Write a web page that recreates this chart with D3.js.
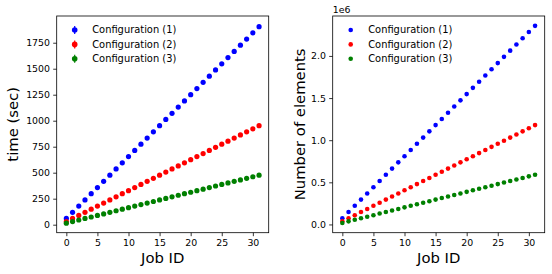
<!DOCTYPE html>
<html>
<head>
<meta charset="utf-8">
<script src="https://cdn.jsdelivr.net/npm/d3@7"></script>
<style>
  body { margin: 0; background: #fff; }
  text { font-family: "DejaVu Sans", sans-serif; fill: #000; }
</style>
</head>
<body>
<div id="chart"></div>
<script>
const jobIds = d3.range(0, 32);
const configNames = ["Configuration (1)", "Configuration (2)", "Configuration (3)"];
const configColors = ["blue", "red", "green"];

// time (sec) per job
const time1 = [60, 119, 179, 238, 298, 357, 417, 476, 536, 595, 655, 714, 774, 833, 893, 952,
  1012, 1071, 1131, 1190, 1250, 1309, 1369, 1428, 1488, 1547, 1607, 1666, 1726, 1785, 1845, 1904];
const time2 = [30, 60, 89, 119, 149, 179, 208, 238, 268, 298, 327, 357, 387, 417, 446, 476,
  506, 536, 565, 595, 625, 655, 684, 714, 744, 774, 803, 833, 863, 893, 922, 952];
const time3 = [15, 30, 45, 60, 74, 89, 104, 119, 134, 149, 164, 179, 193, 208, 223, 238,
  253, 268, 283, 298, 312, 327, 342, 357, 372, 387, 402, 417, 431, 446, 461, 476];

// number of elements (x 1e6)
const elems1 = [0.074, 0.147, 0.221, 0.295, 0.368, 0.442, 0.516, 0.589, 0.663, 0.737, 0.810, 0.884,
  0.958, 1.031, 1.105, 1.179, 1.252, 1.326, 1.400, 1.473, 1.547, 1.621, 1.694, 1.768, 1.842, 1.915,
  1.989, 2.063, 2.136, 2.210, 2.284, 2.357];
const elems2 = [0.037, 0.074, 0.110, 0.147, 0.184, 0.221, 0.258, 0.295, 0.331, 0.368, 0.405, 0.442,
  0.479, 0.516, 0.552, 0.589, 0.626, 0.663, 0.700, 0.737, 0.773, 0.810, 0.847, 0.884, 0.921, 0.958,
  0.994, 1.031, 1.068, 1.105, 1.142, 1.179];
const elems3 = [0.018, 0.037, 0.055, 0.074, 0.092, 0.110, 0.129, 0.147, 0.166, 0.184, 0.203, 0.221,
  0.239, 0.258, 0.276, 0.295, 0.313, 0.331, 0.350, 0.368, 0.387, 0.405, 0.424, 0.442, 0.460, 0.479,
  0.497, 0.516, 0.534, 0.552, 0.571, 0.589];

const xTicks = [0, 5, 10, 15, 20, 25, 30];
const timeTicks = [0, 250, 500, 750, 1000, 1250, 1500, 1750];
const elemTicks = [0, 0.5, 1.0, 1.5, 2.0];

const W = 552, H = 274;
const svg = d3.select("#chart").append("svg")
  .attr("width", W).attr("height", H);

const panel = (opts) => {
  const { left, right, top, bottom, series, yDomain, yTicks, yFmt, yLabel, yLabelX, r, errorLegend, offsetText } = opts;

  const x = d3.scaleLinear().domain([-1.55, 32.55]).range([left, right]);
  const y = d3.scaleLinear().domain(yDomain).range([bottom, top]);

  const g = svg.append("g");

  // points
  series.forEach((vals, k) => {
    g.append("g").selectAll("circle")
      .data(jobIds)
      .join("circle")
      .attr("cx", d => x(d))
      .attr("cy", d => y(vals[d]))
      .attr("r", r)
      .attr("fill", configColors[k]);
  });

  // axes
  const xAxis = g.append("g")
    .attr("transform", `translate(0,${bottom})`)
    .call(d3.axisBottom(x).tickValues(xTicks).tickSize(3.5).tickPadding(3.2));
  const yAxis = g.append("g")
    .attr("transform", `translate(${left},0)`)
    .call(d3.axisLeft(y).tickValues(yTicks).tickFormat(yFmt).tickSize(3.5).tickPadding(3.2));
  [xAxis, yAxis].forEach(a => {
    a.select(".domain").remove();
    a.selectAll("line").attr("stroke", "#000").attr("stroke-width", 0.8);
    a.selectAll("text").style("font-size", "9.4px").style("font-family", "DejaVu Sans, sans-serif");
  });

  // frame
  g.append("rect")
    .attr("x", left).attr("y", top)
    .attr("width", right - left).attr("height", bottom - top)
    .attr("fill", "none").attr("stroke", "#000").attr("stroke-width", 0.8);

  // labels
  g.append("text")
    .attr("x", (left + right) / 2).attr("y", 263)
    .attr("text-anchor", "middle")
    .style("font-size", "14.8px")
    .text("Job ID");
  g.append("text")
    .attr("transform", `translate(${yLabelX},${(top + bottom) / 2}) rotate(-90)`)
    .attr("text-anchor", "middle")
    .style("font-size", "14.8px")
    .text(yLabel);

  if (offsetText) {
    g.append("text")
      .attr("x", left).attr("y", 12.5)
      .style("font-size", "9.4px")
      .text(offsetText);
  }

  // legend
  const leg = g.append("g").attr("transform", `translate(${left + 18},30)`);
  configNames.forEach((name, k) => {
    const row = leg.append("g").attr("transform", `translate(0,${k * 14.4})`);
    if (errorLegend) {
      row.append("line")
        .attr("y1", -4).attr("y2", 4)
        .attr("stroke", configColors[k]).attr("stroke-width", 1.2);
    }
    row.append("circle").attr("r", errorLegend ? 2.8 : 2.3).attr("fill", configColors[k]);
    row.append("text")
      .attr("x", 17.5).attr("dy", "0.35em")
      .style("font-size", "9.9px")
      .text(name);
  });
};

panel({
  left: 56.7, right: 268.7, top: 16, bottom: 232.7,
  series: [time1, time2, time3],
  yDomain: [-77, 2007], yTicks: timeTicks, yFmt: d3.format("d"),
  yLabel: "time (sec)", yLabelX: 18, r: 2.6, errorLegend: true
});

panel({
  left: 332.7, right: 544.7, top: 16, bottom: 232.7,
  series: [elems1, elems2, elems3],
  yDomain: [-0.098, 2.474], yTicks: elemTicks, yFmt: d3.format(".1f"),
  yLabel: "Number of elements", yLabelX: 305, r: 2.3, errorLegend: false, offsetText: "1e6"
});
</script>
</body>
</html>
